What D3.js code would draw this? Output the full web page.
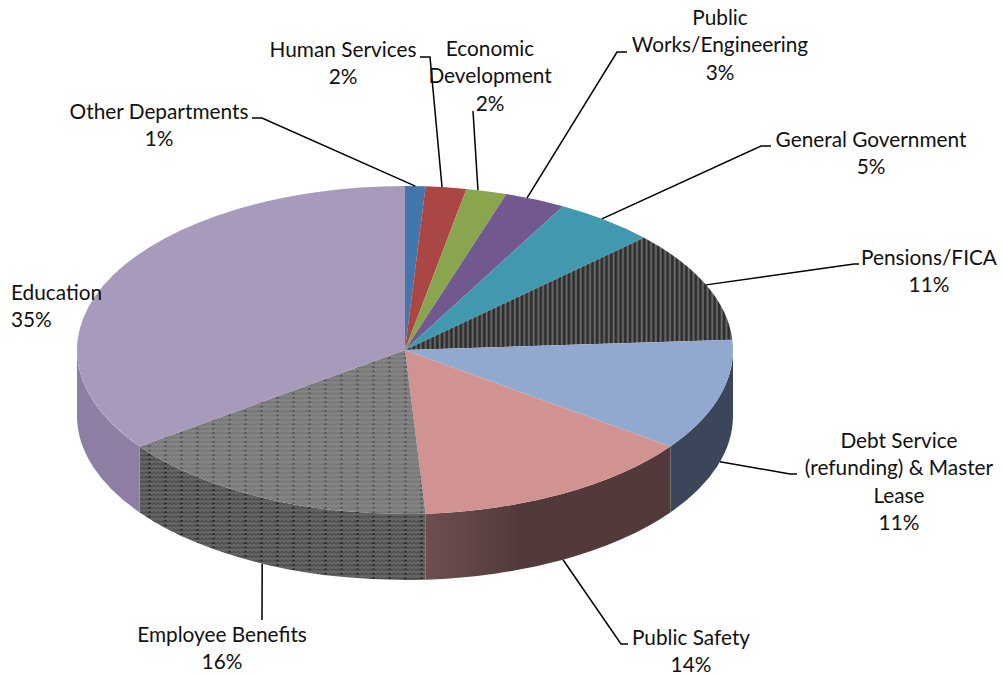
<!DOCTYPE html>
<html>
<head>
<meta charset="utf-8">
<script src="https://cdnjs.cloudflare.com/ajax/libs/d3/7.8.5/d3.min.js"></script>
<style>
  html, body { margin: 0; padding: 0; background: #fff; }
  svg { display: block; }
  text { font-family: Lato, "Open Sans", sans-serif; font-size: 20.8px; fill: #111; }
</style>
</head>
<body>
<div id="chart"></div>
<script>
// Budget shares by department, clockwise from twelve o'clock
const departments = ["Other Departments", "Human Services", "Economic Development",
  "Public Works/Engineering", "General Government", "Pensions/FICA",
  "Debt Service (refunding) & Master Lease", "Public Safety", "Employee Benefits", "Education"];
const shares = [1, 2, 2, 3, 5, 11, 11, 14, 16, 35];

// Fill of each top face and of each rim
const topFills = ["#4376ab", "#aa4643", "#89a54e", "#71588f", "#4198af", "url(#stripes)",
  "#91a8cf", "#d09392", "url(#weaveTop)", "#a79abc"];
const rimFills = ["#33597f", "#803432", "#67793a", "#55426b", "#307284", "#333333",
  "#3c465a", "url(#safetyRim)", "url(#weaveRim)", "#8d7fa3"];

// Wrapped label lines, baselines and leader routes, one entry per department
const labelLines = [
  ["Other Departments", "1%"], ["Human Services", "2%"], ["Economic", "Development", "2%"],
  ["Public", "Works/Engineering", "3%"], ["General Government", "5%"], ["Pensions/FICA", "11%"],
  ["Debt Service", "(refunding) & Master", "Lease", "11%"], ["Public Safety", "14%"],
  ["Employee Benefits", "16%"], ["Education", "35%"]
];
const labelX = [159, 343, 490, 720, 871, 929, 899, 691, 222, 11];
const labelBaseline = [119, 57, 56, 25, 147, 265, 448, 645, 642, 300];
const labelAnchor = ["middle", "middle", "middle", "middle", "middle", "middle", "middle", "middle", "middle", "start"];
const lineStep = 27.4;
// Where each leader meets the pie, measured in cumulative share around the circle
const leaderAttach = [0.5, 1.8, 3.57, 6.07, 10.25, 18.5, 29.5, 42, 57.17];
const leaderRoutes = [
  [[262, 118], [252, 118]], [[430, 57], [420, 57]], [[473, 111]], [[617, 52], [627, 52]],
  [[761, 146], [771, 146]], [[854, 264], [859, 264]], [[790, 474], [797, 474]],
  [[621, 644], [628, 644]], [[262, 620]]
];

const width = 1002, height = 675;
const cx = 405, cy = 350, rx = 328, ry = 164, depth = 66;

const svg = d3.select("#chart").append("svg").attr("width", width).attr("height", height);
const defs = svg.append("defs");

// Dark vertical hatching of the pensions slice
const stripes = defs.append("pattern").attr("id", "stripes").attr("patternUnits", "userSpaceOnUse")
  .attr("width", 4.7).attr("height", 4);
stripes.append("rect").attr("width", 4.7).attr("height", 4).attr("fill", "#2e2e2e");
stripes.append("rect").attr("x", 1.6).attr("width", 1.9).attr("height", 4).attr("fill", "#6b6b6b");

// Woven texture of the benefits slice, lighter on top and darker on the rim
function weave(id, base, mid, dark) {
  const p = defs.append("pattern").attr("id", id).attr("patternUnits", "userSpaceOnUse")
    .attr("width", 16).attr("height", 4.4);
  p.append("rect").attr("width", 16).attr("height", 4.4).attr("fill", base);
  [0, 4, 8, 12].forEach(x => {
    p.append("path").attr("d", `M${x},3 L${x + 2},1.4 L${x + 4},3`)
      .attr("fill", "none").attr("stroke", mid).attr("stroke-width", 1);
  });
  p.append("rect").attr("x", 4).attr("y", 1).attr("width", 3).attr("height", 1.6).attr("fill", dark);
}
weave("weaveTop", "#848484", "#727272", "#565656");
weave("weaveRim", "#666666", "#444444", "#2a2a2a");

// Rim of the public safety slice fades from a lit edge into shadow
const safety = defs.append("linearGradient").attr("id", "safetyRim")
  .attr("gradientUnits", "userSpaceOnUse").attr("x1", 423).attr("x2", 520).attr("y1", 0).attr("y2", 0);
safety.append("stop").attr("offset", 0).attr("stop-color", "#6f4f50");
safety.append("stop").attr("offset", 1).attr("stop-color", "#533a3a");

const total = d3.sum(shares);
const shareAngle = d3.scaleLinear().domain([0, total]).range([0, 2 * Math.PI]);
const pie = d3.pie().sort(null).value(d => d);
const slices = pie(shares);

// Project a pie angle (clockwise from twelve) onto the tilted ellipse
const ex = a => cx + rx * Math.sin(a);
const ey = a => cy - ry * Math.cos(a);
const arcTo = (a0, a1, dy, sweep) =>
  `A${rx},${ry} 0 ${Math.abs(a1 - a0) > Math.PI ? 1 : 0} ${sweep} ${ex(a1)},${ey(a1) + dy}`;

// Rims are drawn first; only the part facing the viewer is visible
const rims = svg.append("g");
slices.forEach((s, i) => {
  const a0 = Math.max(s.startAngle, Math.PI / 2);
  const a1 = Math.min(s.endAngle, 3 * Math.PI / 2);
  if (a1 <= a0) return;
  rims.append("path")
    .attr("d", `M${ex(a0)},${ey(a0)} ${arcTo(a0, a1, 0, 1)} L${ex(a1)},${ey(a1) + depth} ${arcTo(a1, a0, depth, 0)} Z`)
    .attr("fill", rimFills[i]);
});

const tops = svg.append("g");
slices.forEach((s, i) => {
  tops.append("path")
    .attr("d", `M${cx},${cy} L${ex(s.startAngle)},${ey(s.startAngle)} ${arcTo(s.startAngle, s.endAngle, 0, 1)} Z`)
    .attr("fill", topFills[i]);
});

// Leaders begin on the visible edge, top or rim, depending on their angle
const leader = d3.line();
const leaders = svg.append("g").attr("fill", "none").attr("stroke", "#000").attr("stroke-width", 1.5);
leaderRoutes.forEach((route, i) => {
  const a = shareAngle(leaderAttach[i]);
  const onRim = a > Math.PI / 2 && a < 3 * Math.PI / 2;
  leaders.append("path").attr("d", leader([[ex(a), ey(a) + (onRim ? depth : 0)], ...route]));
});

const labels = svg.append("g");
departments.forEach((name, i) => {
  const t = labels.append("text").attr("text-anchor", labelAnchor[i]).attr("data-name", name);
  labelLines[i].forEach((line, k) => {
    t.append("tspan").attr("x", labelX[i]).attr("y", labelBaseline[i] + k * lineStep).text(line);
  });
});
</script>
</body>
</html>
